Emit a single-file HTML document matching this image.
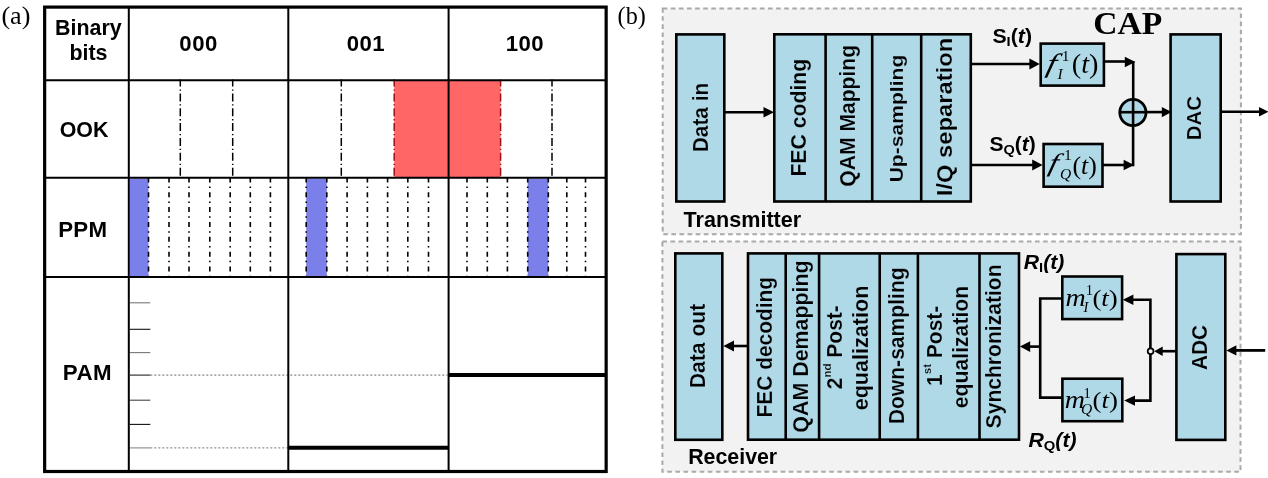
<!DOCTYPE html>
<html><head><meta charset="utf-8"><title>Modulation formats and CAP block diagram</title>
<style>
html,body{margin:0;padding:0;background:#fff;}
body{width:1268px;height:478px;overflow:hidden;}
svg{display:block;}
.ab{font-family:"Liberation Sans",Arial,sans-serif;font-weight:bold;font-style:normal;fill:#000;}
.ar{font-family:"Liberation Sans",Arial,sans-serif;fill:#000;}
.abi{font-family:"Liberation Sans",Arial,sans-serif;font-weight:bold;font-style:italic;fill:#000;}
.ts{font-family:"Liberation Serif","Times New Roman",serif;fill:#000;}
.tsb{font-family:"Liberation Serif","Times New Roman",serif;font-weight:bold;fill:#000;}
.tsi{font-family:"Liberation Serif","Times New Roman",serif;font-style:italic;fill:#000;}
</style></head><body>
<svg width="1268" height="478" viewBox="0 0 1268 478">
<rect x="0" y="0" width="1268" height="478" fill="#fff"/>
<rect x="394.2" y="81" width="106.4" height="96.6" fill="#ff6666"/>
<rect x="129.8" y="178.6" width="18.7" height="97.6" fill="#7b7fe9"/>
<rect x="306.2" y="178.6" width="20.6" height="97.6" fill="#7b7fe9"/>
<rect x="527.7" y="178.6" width="20.6" height="97.6" fill="#7b7fe9"/>
<line x1="180.3" y1="79.4" x2="180.3" y2="177" stroke="#000" stroke-width="1.5" stroke-dasharray="8 2.85 1.3 2.7" stroke-dashoffset="0.85"/>
<line x1="232.7" y1="79.4" x2="232.7" y2="177" stroke="#000" stroke-width="1.5" stroke-dasharray="8 2.85 1.3 2.7" stroke-dashoffset="0.85"/>
<line x1="341.3" y1="79.4" x2="341.3" y2="177" stroke="#000" stroke-width="1.5" stroke-dasharray="8 2.85 1.3 2.7" stroke-dashoffset="0.85"/>
<line x1="552" y1="79.4" x2="552" y2="177" stroke="#000" stroke-width="1.5" stroke-dasharray="8 2.85 1.3 2.7" stroke-dashoffset="0.85"/>
<line x1="394.2" y1="79.4" x2="394.2" y2="177" stroke="#a01010" stroke-width="1.5" stroke-dasharray="8 2.85 1.3 2.7" stroke-dashoffset="0.85"/>
<line x1="500.6" y1="79.4" x2="500.6" y2="177" stroke="#a01010" stroke-width="1.5" stroke-dasharray="8 2.85 1.3 2.7" stroke-dashoffset="0.85"/>
<line x1="148.5" y1="177.4" x2="148.5" y2="276.4" stroke="#000" stroke-width="1.6" stroke-dasharray="5 4.2 1.5 4.15"/>
<line x1="169" y1="177.4" x2="169" y2="276.4" stroke="#000" stroke-width="1.6" stroke-dasharray="5 4.2 1.5 4.15"/>
<line x1="189" y1="177.4" x2="189" y2="276.4" stroke="#000" stroke-width="1.6" stroke-dasharray="5 4.2 1.5 4.15"/>
<line x1="209.8" y1="177.4" x2="209.8" y2="276.4" stroke="#000" stroke-width="1.6" stroke-dasharray="5 4.2 1.5 4.15"/>
<line x1="230.2" y1="177.4" x2="230.2" y2="276.4" stroke="#000" stroke-width="1.6" stroke-dasharray="5 4.2 1.5 4.15"/>
<line x1="250.3" y1="177.4" x2="250.3" y2="276.4" stroke="#000" stroke-width="1.6" stroke-dasharray="5 4.2 1.5 4.15"/>
<line x1="270.4" y1="177.4" x2="270.4" y2="276.4" stroke="#000" stroke-width="1.6" stroke-dasharray="5 4.2 1.5 4.15"/>
<line x1="306.2" y1="177.4" x2="306.2" y2="276.4" stroke="#000" stroke-width="1.6" stroke-dasharray="5 4.2 1.5 4.15"/>
<line x1="326.8" y1="177.4" x2="326.8" y2="276.4" stroke="#000" stroke-width="1.6" stroke-dasharray="5 4.2 1.5 4.15"/>
<line x1="347.1" y1="177.4" x2="347.1" y2="276.4" stroke="#000" stroke-width="1.6" stroke-dasharray="5 4.2 1.5 4.15"/>
<line x1="367.4" y1="177.4" x2="367.4" y2="276.4" stroke="#000" stroke-width="1.6" stroke-dasharray="5 4.2 1.5 4.15"/>
<line x1="387.6" y1="177.4" x2="387.6" y2="276.4" stroke="#000" stroke-width="1.6" stroke-dasharray="5 4.2 1.5 4.15"/>
<line x1="407.8" y1="177.4" x2="407.8" y2="276.4" stroke="#000" stroke-width="1.6" stroke-dasharray="5 4.2 1.5 4.15"/>
<line x1="428.5" y1="177.4" x2="428.5" y2="276.4" stroke="#000" stroke-width="1.6" stroke-dasharray="5 4.2 1.5 4.15"/>
<line x1="467" y1="177.4" x2="467" y2="276.4" stroke="#000" stroke-width="1.6" stroke-dasharray="5 4.2 1.5 4.15"/>
<line x1="487.3" y1="177.4" x2="487.3" y2="276.4" stroke="#000" stroke-width="1.6" stroke-dasharray="5 4.2 1.5 4.15"/>
<line x1="507.4" y1="177.4" x2="507.4" y2="276.4" stroke="#000" stroke-width="1.6" stroke-dasharray="5 4.2 1.5 4.15"/>
<line x1="527.7" y1="177.4" x2="527.7" y2="276.4" stroke="#000" stroke-width="1.6" stroke-dasharray="5 4.2 1.5 4.15"/>
<line x1="548.3" y1="177.4" x2="548.3" y2="276.4" stroke="#000" stroke-width="1.6" stroke-dasharray="5 4.2 1.5 4.15"/>
<line x1="566.8" y1="177.4" x2="566.8" y2="276.4" stroke="#000" stroke-width="1.6" stroke-dasharray="5 4.2 1.5 4.15"/>
<line x1="585.5" y1="177.4" x2="585.5" y2="276.4" stroke="#000" stroke-width="1.6" stroke-dasharray="5 4.2 1.5 4.15"/>
<line x1="129.8" y1="302.8" x2="150.3" y2="302.8" stroke="#777" stroke-width="1.1" />
<line x1="129.8" y1="329.3" x2="150.3" y2="329.3" stroke="#111" stroke-width="1.1" />
<line x1="129.8" y1="352.6" x2="150.3" y2="352.6" stroke="#777" stroke-width="1.1" />
<line x1="129.8" y1="375.1" x2="150.3" y2="375.1" stroke="#222" stroke-width="1.1" />
<line x1="129.8" y1="400.2" x2="150.3" y2="400.2" stroke="#444" stroke-width="1.1" />
<line x1="129.8" y1="424.4" x2="150.3" y2="424.4" stroke="#111" stroke-width="1.1" />
<line x1="129.8" y1="447.9" x2="150.3" y2="447.9" stroke="#888" stroke-width="1.1" />
<line x1="150.3" y1="375.1" x2="447.6" y2="375.1" stroke="#666" stroke-width="1" stroke-dasharray="2 2"/>
<line x1="150.3" y1="447.9" x2="288" y2="447.9" stroke="#777" stroke-width="1" stroke-dasharray="2 2"/>
<line x1="289" y1="447.8" x2="448.6" y2="447.8" stroke="#000" stroke-width="4" />
<line x1="449" y1="375" x2="605" y2="375" stroke="#000" stroke-width="4" />
<line x1="44" y1="80.2" x2="606" y2="80.2" stroke="#000" stroke-width="2" />
<line x1="44" y1="177.7" x2="606" y2="177.7" stroke="#000" stroke-width="2" />
<line x1="44" y1="277" x2="606" y2="277" stroke="#000" stroke-width="2" />
<line x1="128.8" y1="7" x2="128.8" y2="471.5" stroke="#000" stroke-width="2" />
<line x1="288.3" y1="7" x2="288.3" y2="471.5" stroke="#000" stroke-width="2" />
<line x1="448.6" y1="7" x2="448.6" y2="471.5" stroke="#000" stroke-width="2" />
<rect x="44.65" y="7.1" width="561.5" height="464.4" fill="none" stroke="#000" stroke-width="3.2"/>
<text class="ts" font-size="25" x="1.4" y="23.7" text-anchor="start" textLength="29" lengthAdjust="spacingAndGlyphs">(a)</text>
<text class="ab" font-size="21.4" x="88.4" y="35.3" text-anchor="middle" >Binary</text>
<text class="ab" font-size="21.4" x="88.4" y="60.1" text-anchor="middle" >bits</text>
<text class="ab" font-size="22.2" x="198.60000000000002" y="50.5" text-anchor="middle" letter-spacing="0.5">000</text>
<text class="ab" font-size="22.2" x="365.90000000000003" y="50.5" text-anchor="middle" letter-spacing="0.5">001</text>
<text class="ab" font-size="22.2" x="524.9" y="50.5" text-anchor="middle" letter-spacing="0.5">100</text>
<text class="ab" font-size="21.4" x="84" y="137.3" text-anchor="middle" >OOK</text>
<text class="ab" font-size="22.3" x="82.8" y="237" text-anchor="middle" letter-spacing="0.3">PPM</text>
<text class="ab" font-size="22.3" x="87.4" y="380" text-anchor="middle" letter-spacing="0.4">PAM</text>
<text class="ts" font-size="25" x="617.6" y="24" text-anchor="start" textLength="28.2" lengthAdjust="spacingAndGlyphs">(b)</text>
<defs><filter id="soft" x="-2%" y="-2%" width="104%" height="104%"><feGaussianBlur stdDeviation="0.35"/></filter></defs>
<g filter="url(#soft)">
<rect x="662.7" y="8.5" width="578.2" height="225.8" fill="#f2f2f2" stroke="#a9a9a9" stroke-width="2" stroke-dasharray="4.6 3.5"/>
<rect x="662.4" y="241.5" width="578.1" height="230.3" fill="#f2f2f2" stroke="#a9a9a9" stroke-width="2" stroke-dasharray="4.6 3.5"/>
<rect x="676.30" y="34.40" width="48.00" height="167.10" fill="#b0d9e8" stroke="#000" stroke-width="2.6" />
<text class="ab" font-size="20.8" text-anchor="middle" transform="translate(707.5,117.5) scale(1.03,1) rotate(-90)" stroke="#b0d9e8" stroke-width="0.18" >Data in</text>
<line x1="725" y1="112.2" x2="766" y2="112.2" stroke="#000" stroke-width="2.6" />
<rect x="774.30" y="34.30" width="196.50" height="167.20" fill="#b0d9e8" stroke="#000" stroke-width="2.6" />
<line x1="825.6" y1="34" x2="825.6" y2="202" stroke="#000" stroke-width="2.6" />
<line x1="872.2" y1="34" x2="872.2" y2="202" stroke="#000" stroke-width="2.6" />
<line x1="921.2" y1="34" x2="921.2" y2="202" stroke="#000" stroke-width="2.6" />
<text class="ab" font-size="21.2" text-anchor="middle" transform="translate(805.5,117.7) scale(1.03,1) rotate(-90)" stroke="#b0d9e8" stroke-width="0.18" >FEC coding</text>
<text class="ab" font-size="21.1" text-anchor="middle" transform="translate(855.4,115.8) scale(1.03,1) rotate(-90)" stroke="#b0d9e8" stroke-width="0.18" >QAM Mapping</text>
<text class="ab" font-size="21.1" text-anchor="middle" transform="translate(903,118.5) scale(0.9,1) rotate(-90)" stroke="#b0d9e8" stroke-width="0.18" >Up-sampling</text>
<text class="ab" font-size="22.4" text-anchor="middle" transform="translate(951.8,117) scale(1.0,1.06) rotate(-90)" stroke="#b0d9e8" stroke-width="0.18" >I/Q separation</text>
<text class="ab" font-size="22.4" x="683.6" y="227.4" text-anchor="start" textLength="117.6" lengthAdjust="spacingAndGlyphs">Transmitter</text>
<line x1="971" y1="64" x2="1031" y2="64" stroke="#000" stroke-width="2.6" />
<line x1="971" y1="165" x2="1033" y2="165" stroke="#000" stroke-width="2.6" />
<rect x="1040.70" y="43.60" width="63.20" height="42.00" fill="#b0d9e8" stroke="#000" stroke-width="2.6" />
<rect x="1043.60" y="144.00" width="58.90" height="42.70" fill="#b0d9e8" stroke="#000" stroke-width="2.6" />
<line x1="1104" y1="61.5" x2="1127" y2="61.5" stroke="#000" stroke-width="2.6" />
<line x1="1133.2" y1="61" x2="1133.2" y2="100" stroke="#000" stroke-width="2.6" />
<line x1="1103" y1="165" x2="1126" y2="165" stroke="#000" stroke-width="2.6" />
<line x1="1133.1" y1="166.3" x2="1133.1" y2="125" stroke="#000" stroke-width="2.6" />
<circle cx="1132.9" cy="112.5" r="13.1" fill="#b0d9e8" stroke="#000" stroke-width="2.8"/>
<line x1="1120" y1="112.2" x2="1146" y2="112.2" stroke="#000" stroke-width="2.6" />
<line x1="1133.1" y1="99" x2="1133.1" y2="126" stroke="#000" stroke-width="2.6" />
<line x1="1146" y1="112.1" x2="1163" y2="112.1" stroke="#000" stroke-width="2.6" />
<rect x="1170.60" y="34.40" width="50.10" height="167.10" fill="#b0d9e8" stroke="#000" stroke-width="2.6" />
<text class="ab" font-size="20.4" text-anchor="middle" transform="translate(1201.2,118.1) scale(1.03,1) rotate(-90)" stroke="#b0d9e8" stroke-width="0.18" >DAC</text>
<line x1="1221" y1="111.8" x2="1260" y2="111.8" stroke="#000" stroke-width="2.6" />
<rect x="675.30" y="253.40" width="47.00" height="186.40" fill="#b0d9e8" stroke="#000" stroke-width="2.6" />
<rect x="748.00" y="253.40" width="271.00" height="186.30" fill="#b0d9e8" stroke="#000" stroke-width="2.6" />
<line x1="785.7" y1="253" x2="785.7" y2="440" stroke="#000" stroke-width="2.6" />
<line x1="819.1" y1="253" x2="819.1" y2="440" stroke="#000" stroke-width="2.6" />
<line x1="879.7" y1="253" x2="879.7" y2="440" stroke="#000" stroke-width="2.6" />
<line x1="917.9" y1="253" x2="917.9" y2="440" stroke="#000" stroke-width="2.6" />
<line x1="979.5" y1="253" x2="979.5" y2="440" stroke="#000" stroke-width="2.6" />
<line x1="747" y1="346" x2="733" y2="346" stroke="#000" stroke-width="2.6" />
<text class="ab" font-size="21.8" x="688.2" y="464.2" text-anchor="start" textLength="89" lengthAdjust="spacingAndGlyphs">Receiver</text>
<rect x="1062.30" y="276.50" width="59.80" height="42.60" fill="#b0d9e8" stroke="#000" stroke-width="2.6" />
<rect x="1062.40" y="378.70" width="59.90" height="42.50" fill="#b0d9e8" stroke="#000" stroke-width="2.6" />
<rect x="1176.40" y="254.10" width="48.90" height="185.80" fill="#b0d9e8" stroke="#000" stroke-width="2.6" />
<text class="ab" font-size="20.8" text-anchor="middle" transform="translate(1207.3,347.5) scale(1.03,1) rotate(-90)" stroke="#b0d9e8" stroke-width="0.18" >ADC</text>
<polyline points="1062,298.5 1040.2,298.5 1040.2,397.6 1062,397.6" fill="none" stroke="#000" stroke-width="2.6"/>
<line x1="1040.2" y1="346.6" x2="1029" y2="346.6" stroke="#000" stroke-width="2.6" />
<polyline points="1132,299.8 1150.4,299.8 1150.4,400.6 1133,400.6" fill="none" stroke="#000" stroke-width="2.6"/>
<line x1="1176" y1="351.2" x2="1162" y2="351.2" stroke="#000" stroke-width="2.6" />
<circle cx="1150.6" cy="351.2" r="2.9" fill="#f2f2f2" stroke="#000" stroke-width="1.7"/>
<line x1="1265.2" y1="350.4" x2="1236" y2="350.4" stroke="#000" stroke-width="2.8" />
<text class="ab" font-size="20.9" text-anchor="middle" transform="translate(771.5,347.2) scale(1.03,1) rotate(-90)" stroke="#b0d9e8" stroke-width="0.18" >FEC decoding</text>
<text class="ab" font-size="21.4" text-anchor="middle" transform="translate(808.3,346.5) scale(1.03,1) rotate(-90)" stroke="#b0d9e8" stroke-width="0.18" >QAM Demapping</text>
<text class="ab" font-size="21" text-anchor="middle" transform="translate(842.2,347.2) scale(1.03,1) rotate(-90)" stroke="#b0d9e8" stroke-width="0.18">2<tspan font-size="11.5" dy="-10.6">nd</tspan><tspan dy="10.6"> Post-</tspan></text>
<text class="ab" font-size="21.6" text-anchor="middle" transform="translate(868.1,348) scale(1.03,1) rotate(-90)" stroke="#b0d9e8" stroke-width="0.18" >equalization</text>
<text class="ab" font-size="21.1" text-anchor="middle" transform="translate(904.4,345.8) scale(1.03,1) rotate(-90)" stroke="#b0d9e8" stroke-width="0.18" >Down-sampling</text>
<text class="ab" font-size="21" text-anchor="middle" transform="translate(942.3,345.8) scale(1.03,1) rotate(-90)" stroke="#b0d9e8" stroke-width="0.18">1<tspan font-size="11.5" dy="-10.6">st</tspan><tspan dy="10.6"> Post-</tspan></text>
<text class="ab" font-size="21.2" text-anchor="middle" transform="translate(968,347) scale(1.03,1) rotate(-90)" stroke="#b0d9e8" stroke-width="0.18" >equalization</text>
<text class="ab" font-size="21.1" text-anchor="middle" transform="translate(1001.4,346.4) scale(1.03,1) rotate(-90)" stroke="#b0d9e8" stroke-width="0.18" >Synchronization</text>
<text class="ab" font-size="21.1" text-anchor="middle" transform="translate(704.6,346) scale(1.03,1) rotate(-90)" stroke="#b0d9e8" stroke-width="0.18" >Data out</text>
<text class="ab" font-size="19.6" x="992.4" y="43.4" textLength="39.6" lengthAdjust="spacingAndGlyphs">S<tspan font-size="13.5" dy="2.9">I</tspan><tspan dy="-2.9">(</tspan><tspan class="abi">t</tspan>)</text>
<text class="ab" font-size="19.6" x="989.4" y="150.8" textLength="46.4" lengthAdjust="spacingAndGlyphs">S<tspan font-size="13.5" dy="3.6">Q</tspan><tspan dy="-3.6">(</tspan><tspan class="abi">t</tspan>)</text>
<text class="abi" font-size="19.4" x="1023.8" y="268.8" textLength="40.6" lengthAdjust="spacingAndGlyphs">R<tspan class="ab" font-size="13.5" dy="3">I</tspan><tspan dy="-3">(t)</tspan></text>
<text class="abi" font-size="19.4" x="1028.4" y="446.8" textLength="48.2" lengthAdjust="spacingAndGlyphs">R<tspan class="ab" font-size="13.5" dy="3.4">Q</tspan><tspan dy="-3.4">(t)</tspan></text>
<text class="tsi" font-size="26.5" transform="translate(1045.2,71.8) scale(1.3,1) skewX(-10)" fill="#213f4b">f</text>
<text class="ts" font-size="15.5" x="1061.8" y="60.6" fill="#213f4b">1</text>
<text class="tsi" font-size="15.5" x="1057.6" y="78.8" fill="#213f4b">I</text>
<text class="ts" font-size="26.5" transform="translate(1071.8,72.8) scale(1.07,1)" fill="#213f4b">(<tspan class="tsi">t</tspan>)</text>
<text class="tsi" font-size="25.4" transform="translate(1047.6,171.4) scale(1.3,1) skewX(-10)" fill="#213f4b">f</text>
<text class="ts" font-size="15.5" x="1064" y="160.2" fill="#213f4b">1</text>
<text class="tsi" font-size="15.5" x="1060" y="179.0" fill="#213f4b">Q</text>
<text class="ts" font-size="25.8" transform="translate(1072.4,174.2) scale(1.0,1)" fill="#213f4b">(<tspan class="tsi">t</tspan>)</text>
<text class="tsi" font-size="25" transform="translate(1065.4,305.5) scale(1.12,1) skewX(0)" fill="#213f4b">m</text>
<text class="ts" font-size="14.5" x="1085.8" y="295.1" fill="#213f4b">1</text>
<text class="tsi" font-size="14.5" x="1083.6" y="311.5" fill="#213f4b">I</text>
<text class="ts" font-size="23.8" transform="translate(1092.4,305.5) scale(1.13,1)" fill="#213f4b">(<tspan class="tsi">t</tspan>)</text>
<text class="tsi" font-size="25" transform="translate(1064.8,408.2) scale(1.12,1) skewX(0)" fill="#213f4b">m</text>
<text class="ts" font-size="14.5" x="1083.6" y="397.6" fill="#213f4b">1</text>
<text class="tsi" font-size="15.5" x="1081" y="414.0" fill="#213f4b">Q</text>
<text class="ts" font-size="23.8" transform="translate(1092.6,408.2) scale(1.13,1)" fill="#213f4b">(<tspan class="tsi">t</tspan>)</text>
<polygon points="774,112.2 763.5,106.95 763.5,117.45" fill="#000"/>
<polygon points="1039.8,64 1029.3999999999999,58.6 1029.3999999999999,69.4" fill="#000"/>
<polygon points="1042.6,165 1032.1999999999998,159.6 1032.1999999999998,170.4" fill="#000"/>
<polygon points="1135.4,62 1124.8000000000002,56.8 1124.8000000000002,67.2" fill="#000"/>
<polygon points="1134.2,165 1123.6000000000001,159.7 1123.6000000000001,170.3" fill="#000"/>
<polygon points="1171.6,112.1 1161.8,106.94999999999999 1161.8,117.25" fill="#000"/>
<polygon points="1268.5,111.8 1259.0,107.05 1259.0,116.55" fill="#000"/>
<polygon points="723.4,346 734.0,340.6 734.0,351.4" fill="#000"/>
<polygon points="1019.9,346.6 1030.2,341.3 1030.2,351.90000000000003" fill="#000"/>
<polygon points="1122.8,299.8 1133.3999999999999,294.6 1133.3999999999999,305.0" fill="#000"/>
<polygon points="1124.2,400.6 1135.0,395.40000000000003 1135.0,405.8" fill="#000"/>
<polygon points="1154.2,351.2 1162.7,346.4 1162.7,356.0" fill="#000"/>
<polygon points="1226.4,350.4 1236.4,345.2 1236.4,355.59999999999997" fill="#000"/>
</g>
<text class="tsb" font-size="31" x="1093.2" y="33.9" text-anchor="start" textLength="69" lengthAdjust="spacingAndGlyphs">CAP</text>
</svg>
</body></html>
